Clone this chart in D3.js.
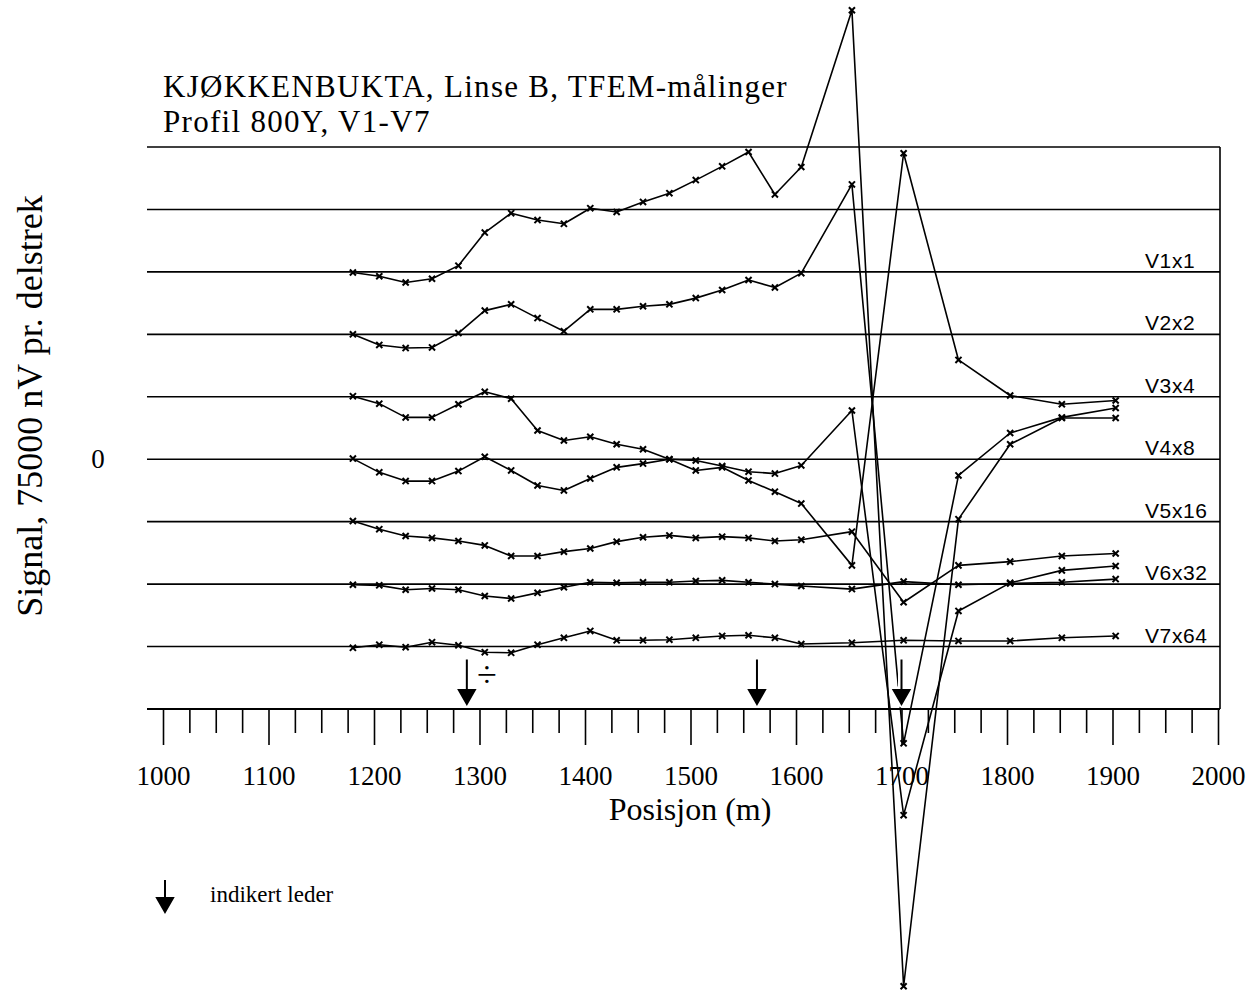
<!DOCTYPE html>
<html>
<head>
<meta charset="utf-8">
<script src="https://cdn.jsdelivr.net/npm/d3@7"></script>
<style>
  body { margin: 0; background: #fff; }
  .serif { font-family: "Liberation Serif", "Times New Roman", serif; fill: #000; }
  .sans { font-family: "Liberation Sans", Arial, sans-serif; fill: #000; }
</style>
</head>
<body>
<div id="host"></div>
<script>
// Stations along the profile (m)
const positions = [1180, 1205, 1230, 1255, 1280, 1305, 1330, 1355, 1380, 1405, 1430, 1455,
    1480, 1505, 1530, 1555, 1580, 1605, 1653, 1702, 1754, 1803, 1852, 1903];

// Channel values after multiplier, in divisions of 75000 nV, relative to own baseline
const v1 = [-0.01, -0.07, -0.17, -0.11, 0.10, 0.63, 0.94, 0.83, 0.77, 1.02, 0.96, 1.12,
    1.26, 1.47, 1.69, 1.92, 1.24, 1.68, 4.19, -11.44, -3.96, -2.76, -2.34, -2.34];
const v2 = [0.00, -0.17, -0.22, -0.21, 0.02, 0.38, 0.48, 0.26, 0.05, 0.40, 0.40, 0.45,
    0.48, 0.58, 0.71, 0.87, 0.75, 0.98, 2.40, -6.55, -2.26, -1.58, -1.33, -1.18];
const v3 = [0.01, -0.11, -0.33, -0.33, -0.12, 0.08, -0.03, -0.54, -0.70, -0.64, -0.76, -0.84,
    -1.00, -1.18, -1.13, -1.34, -1.52, -1.71, -2.70, 3.90, 0.59, 0.02, -0.12, -0.06];
const v4 = [0.01, -0.21, -0.35, -0.35, -0.19, 0.04, -0.18, -0.42, -0.50, -0.31, -0.13, -0.07,
    0.00, -0.02, -0.11, -0.20, -0.23, -0.10, 0.78, -5.70, -2.43, -1.98, -1.78, -1.71];
const v5 = [0.01, -0.12, -0.23, -0.26, -0.31, -0.38, -0.55, -0.55, -0.48, -0.43, -0.32, -0.25,
    -0.22, -0.26, -0.24, -0.26, -0.31, -0.29, -0.16, -1.29, -0.70, -0.64, -0.55, -0.51];
const v6 = [-0.01, -0.02, -0.09, -0.07, -0.09, -0.19, -0.23, -0.14, -0.05, 0.03, 0.02, 0.03,
    0.03, 0.05, 0.06, 0.03, 0.00, -0.03, -0.08, 0.04, -0.01, 0.01, 0.03, 0.08];
const v7 = [-0.02, 0.03, -0.01, 0.07, 0.02, -0.09, -0.10, 0.03, 0.14, 0.25, 0.10, 0.10,
    0.11, 0.14, 0.17, 0.18, 0.14, 0.04, 0.06, 0.10, 0.09, 0.09, 0.14, 0.17];

const channels = ["V1x1", "V2x2", "V3x4", "V4x8", "V5x16", "V6x32", "V7x64"];
const baselines = [3, 2, 1, 0, -1, -2, -3];
const leaders = [1288, 1563, 1700];
const xTicks = [1000, 1100, 1200, 1300, 1400, 1500, 1600, 1700, 1800, 1900, 2000];
const gridLevels = [-3, -2, -1, 0, 1, 2, 3, 4, 5];

const width = 1260;
const height = 992;

const x = d3.scaleLinear().domain([1000, 2000]).range([163, 1218]);
const y = d3.scaleLinear().domain([-4, 5]).range([709, 147]);
const left = x.range()[0] - 16;
const right = x.range()[1] + 2;

const svg = d3.select("#host")
    .append("svg")
    .attr("width", width)
    .attr("height", height);

// Horizontal division lines
svg.append("g")
    .selectAll("line")
    .data(gridLevels)
    .join("line")
    .attr("x1", left)
    .attr("x2", right)
    .attr("y1", d => y(d))
    .attr("y2", d => y(d))
    .attr("stroke", "#000")
    .attr("stroke-width", 1.6);

// Right frame
svg.append("line")
    .attr("x1", right).attr("x2", right)
    .attr("y1", y(5)).attr("y2", y(-4))
    .attr("stroke", "#000").attr("stroke-width", 1.6);

// X axis
svg.append("line")
    .attr("x1", left).attr("x2", right)
    .attr("y1", y(-4)).attr("y2", y(-4))
    .attr("stroke", "#000").attr("stroke-width", 1.8);

const minorTicks = d3.range(1000, 2001, 25).filter(t => t % 100 !== 0);
const minorAxis = svg.append("g")
    .attr("transform", `translate(0,${y(-4)})`)
    .call(d3.axisBottom(x).tickValues(minorTicks).tickSize(24).tickSizeOuter(0).tickFormat(""));
minorAxis.select(".domain").remove();

const majorAxis = svg.append("g")
    .attr("transform", `translate(0,${y(-4)})`)
    .call(d3.axisBottom(x).tickValues(xTicks).tickSize(36).tickSizeOuter(0).tickPadding(21)
        .tickFormat(d3.format("d")));
majorAxis.select(".domain").remove();
svg.selectAll(".tick line").attr("stroke", "#000").attr("stroke-width", 1.6);
majorAxis.selectAll("text")
    .attr("class", "serif")
    .attr("font-size", 27)
    .attr("fill", "#000");

// Curves
const series = [v1, v2, v3, v4, v5, v6, v7];
const line = d3.line()
    .x(d => x(d[0]))
    .y(d => y(d[1]));

series.forEach((vals, i) => {
    const pts = vals.map((v, j) => [positions[j], baselines[i] + v]);
    svg.append("path")
        .attr("d", line(pts))
        .attr("fill", "none")
        .attr("stroke", "#000")
        .attr("stroke-width", 1.6)
        .attr("stroke-linejoin", "round");
    svg.append("g")
        .selectAll("path")
        .data(pts)
        .join("path")
        .attr("d", d3.symbol(d3.symbolTimes, 26))
        .attr("transform", d => `translate(${x(d[0])},${y(d[1])})`)
        .attr("stroke", "#000")
        .attr("stroke-width", 2)
        .attr("fill", "none");
});

// Channel labels
svg.append("g")
    .selectAll("text")
    .data(channels)
    .join("text")
    .attr("class", "sans")
    .attr("x", 1145)
    .attr("y", (d, i) => y(baselines[i]) - 4)
    .attr("font-size", 21)
    .attr("letter-spacing", 0.6)
    .text(d => d);

// Indicated conductors
function arrow(g, cx, top, bottom) {
    const path = `M${cx},${top} L${cx},${bottom - 14} M${cx - 8},${bottom - 14} L${cx + 8},${bottom - 14} L${cx},${bottom} Z`;
    g.append("path").attr("d", path).attr("stroke", "#fff").attr("stroke-width", 7)
        .attr("fill", "#fff").attr("stroke-linejoin", "round");
    g.append("path").attr("d", path).attr("stroke", "#000").attr("stroke-width", 2)
        .attr("fill", "#000");
}
const arrows = svg.append("g");
leaders.forEach(p => arrow(arrows, x(p), y(-3) + 13, y(-4) - 5));

svg.append("text")
    .attr("class", "serif")
    .attr("x", x(leaders[0]) + 20)
    .attr("y", y(-3) + 40)
    .attr("text-anchor", "middle")
    .attr("font-size", 36)
    .text("÷");

// Titles
const title = svg.append("text")
    .attr("class", "serif")
    .attr("x", 163)
    .attr("font-size", 31)
    .attr("letter-spacing", 1.3);
title.append("tspan").attr("x", 163).attr("y", 97).text("KJØKKENBUKTA, Linse B, TFEM-målinger");
title.append("tspan").attr("x", 163).attr("y", 132).text("Profil 800Y, V1-V7");

svg.append("text")
    .attr("class", "serif")
    .attr("transform", `translate(42,${(y(5) + y(-4)) / 2 - 22}) rotate(-90)`)
    .attr("text-anchor", "middle")
    .attr("font-size", 36)
    .text("Signal, 75000 nV pr. delstrek");

svg.append("text")
    .attr("class", "serif")
    .attr("x", 98)
    .attr("y", y(0) + 9)
    .attr("text-anchor", "middle")
    .attr("font-size", 27)
    .text("0");

svg.append("text")
    .attr("class", "serif")
    .attr("x", 690)
    .attr("y", 820)
    .attr("text-anchor", "middle")
    .attr("font-size", 32)
    .text("Posisjon (m)");

// Legend
const legend = svg.append("g");
arrow(legend, 165, 880, 912);
legend.append("text")
    .attr("class", "serif")
    .attr("x", 210)
    .attr("y", 902)
    .attr("font-size", 23)
    .text("indikert leder");
</script>
</body>
</html>
